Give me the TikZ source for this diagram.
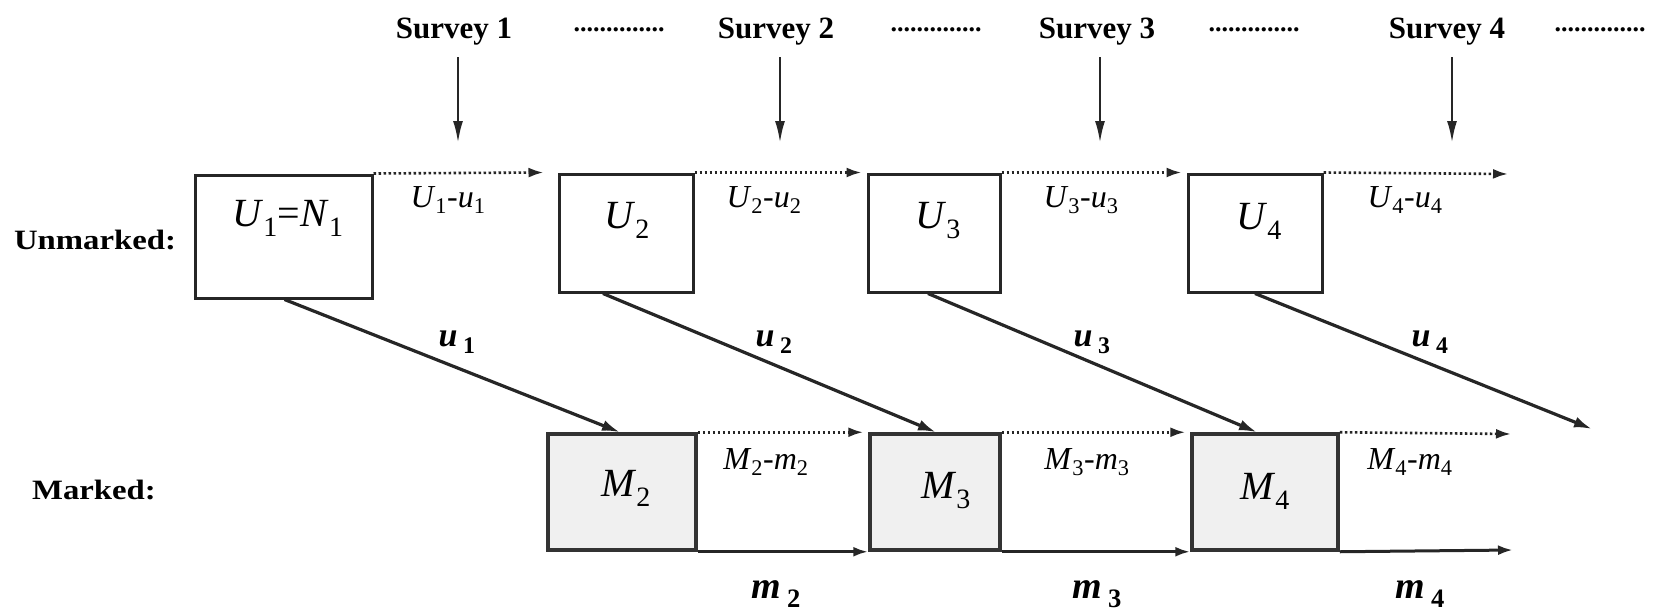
\documentclass[tikz,border=0pt]{standalone}
\usepackage{fontspec}
\setmainfont{Liberation Serif}
\usetikzlibrary{arrows.meta}
\newcommand{\vs}[2]{\textit{#1}\textsubscript{#2}}
\newcommand{\bvs}[2]{\textbf{\textit{#1}}\,\textsubscript{\textbf{#2}}}
\begin{document}
\begin{tikzpicture}[x=1pt,y=-1pt,
  ubox/.style={draw=black!85, line width=3pt, minimum height=118pt, inner sep=0pt},
  mbox/.style={draw=black!80, line width=3.5pt, fill=black!6, minimum height=116pt, inner sep=0pt},
  flow/.style={draw=black!85, line width=2.6pt, dash pattern=on 2.6pt off 2.4pt, -{Latex[length=15pt,width=10pt]}},
  solidflow/.style={draw=black!85, line width=3pt, -{Latex[length=15pt,width=10pt]}},
  diag/.style={draw=black!85, line width=3.2pt, -{Latex[length=18pt,width=11pt]}},
  down/.style={draw=black!85, line width=2.5pt, -{Latex[length=22pt,width=10pt]}},
  survey/.style={font=\fontsize{31}{34}\selectfont\bfseries},
  dots/.style={font=\fontsize{26}{30}\selectfont\bfseries},
  lab/.style={font=\fontsize{32}{36}\selectfont},
  blab/.style={font=\fontsize{34}{38}\selectfont},
  mlab/.style={font=\fontsize{38}{40}\selectfont},
  boxlab/.style={font=\fontsize{40}{44}\selectfont},
  row/.style={font=\fontsize{28}{30}\selectfont\bfseries}]
\path[use as bounding box] (0,0) rectangle (1659,613);

% survey headings
\node[survey] (s1) at (454,32) {Survey 1};
\node[survey] (s2) at (776,32) {Survey 2};
\node[survey] (s3) at (1097,32) {Survey 3};
\node[survey] (s4) at (1447,32) {Survey 4};
\node[dots] (d1) at (619,30) {..............};
\node[dots] (d2) at (936,30) {..............};
\node[dots] (d3) at (1254,30) {..............};
\node[dots] (d4) at (1600,30) {..............};

% down arrows
\coordinate (b1) at (458,143);
\coordinate (b2) at (780,143);
\coordinate (b3) at (1100,143);
\coordinate (b4) at (1452,143);
\foreach \i in {1,2,3,4}{
  \draw[down, shorten <=8pt] (s\i.south -| b\i) -- (b\i);
}

% row labels
\node[row] (un) at (95,240) {\scalebox{1.17}[1]{Unmarked:}};
\node[row] (mk) at (94,490) {\scalebox{1.17}[1]{Marked:}};

% unmarked boxes
\node[ubox, minimum width=177pt, minimum height=123pt] (U1) at (283.5,236.5) {};
\node[ubox, minimum width=134pt] (U2) at (626,233) {};
\node[ubox, minimum width=132pt] (U3) at (934,233) {};
\node[ubox, minimum width=134pt] (U4) at (1255,233) {};
\node[boxlab] (lU1) at (288,218) {\vs{U}{1}=\vs{N}{1}};
\node[boxlab] (lU2) at (627,220) {\vs{U}{2}};
\node[boxlab] (lU3) at (938,221) {\vs{U}{3}};
\node[boxlab] (lU4) at (1259,221) {\vs{U}{4}};

% marked boxes
\node[mbox, minimum width=148pt] (M2) at (622,492) {};
\node[mbox, minimum width=130pt] (M3) at (935,492) {};
\node[mbox, minimum width=146pt] (M4) at (1265,492) {};
\node[boxlab] (lM2) at (626,488) {\vs{M}{2}};
\node[boxlab] (lM3) at (946,491) {\vs{M}{3}};
\node[boxlab] (lM4) at (1265,491) {\vs{M}{4}};

% unmarked flows
\coordinate (uend) at (1508,174);
\draw[flow] (U1.north east) -- ([xshift=-14pt]U2.north west);
\draw[flow] (U2.north east) -- ([xshift=-5pt]U3.north west);
\draw[flow] (U3.north east) -- ([xshift=-5pt]U4.north west);
\draw[flow] (U4.north east) -- (uend);
\node[lab] (f1) at (448,200) {\vs{U}{1}-\vs{u}{1}};
\node[lab] (f2) at (764,200) {\vs{U}{2}-\vs{u}{2}};
\node[lab] (f3) at (1081,200) {\vs{U}{3}-\vs{u}{3}};
\node[lab] (f4) at (1405,200) {\vs{U}{4}-\vs{u}{4}};

% marking arrows
\coordinate (dend) at (1592,429);
\draw[diag] ([xshift=1pt]U1.south) -- ([xshift=-2pt]M2.north);
\draw[diag] ([xshift=-23pt]U2.south) -- ([xshift=1pt]M3.north);
\draw[diag] ([xshift=-6pt]U3.south) -- ([xshift=-8pt]M4.north);
\draw[diag] (U4.south) -- (dend);
\node[blab] (g1) at (457,342) {\bvs{u}{1}};
\node[blab] (g2) at (774,342) {\bvs{u}{2}};
\node[blab] (g3) at (1092,342) {\bvs{u}{3}};
\node[blab] (g4) at (1430,342) {\bvs{u}{4}};

% marked flows
\coordinate (mend) at (1511,434);
\coordinate (send) at (1513,550);
\draw[flow] (M2.north east) -- ([xshift=-5pt]M3.north west);
\draw[flow] (M3.north east) -- ([xshift=-5pt]M4.north west);
\draw[flow] (M4.north east) -- (mend);
\draw[solidflow] (M2.south east) -- (M3.south west);
\draw[solidflow] (M3.south east) -- (M4.south west);
\draw[solidflow] (M4.south east) -- (send);
\node[lab] (h2) at (766,462) {\vs{M}{2}-\vs{m}{2}};
\node[lab] (h3) at (1087,462) {\vs{M}{3}-\vs{m}{3}};
\node[lab] (h4) at (1410,462) {\vs{M}{4}-\vs{m}{4}};
\node[mlab] (k2) at (776,594) {\bvs{m}{2}};
\node[mlab] (k3) at (1097,594) {\bvs{m}{3}};
\node[mlab] (k4) at (1420,594) {\bvs{m}{4}};
\end{tikzpicture}
\end{document}
